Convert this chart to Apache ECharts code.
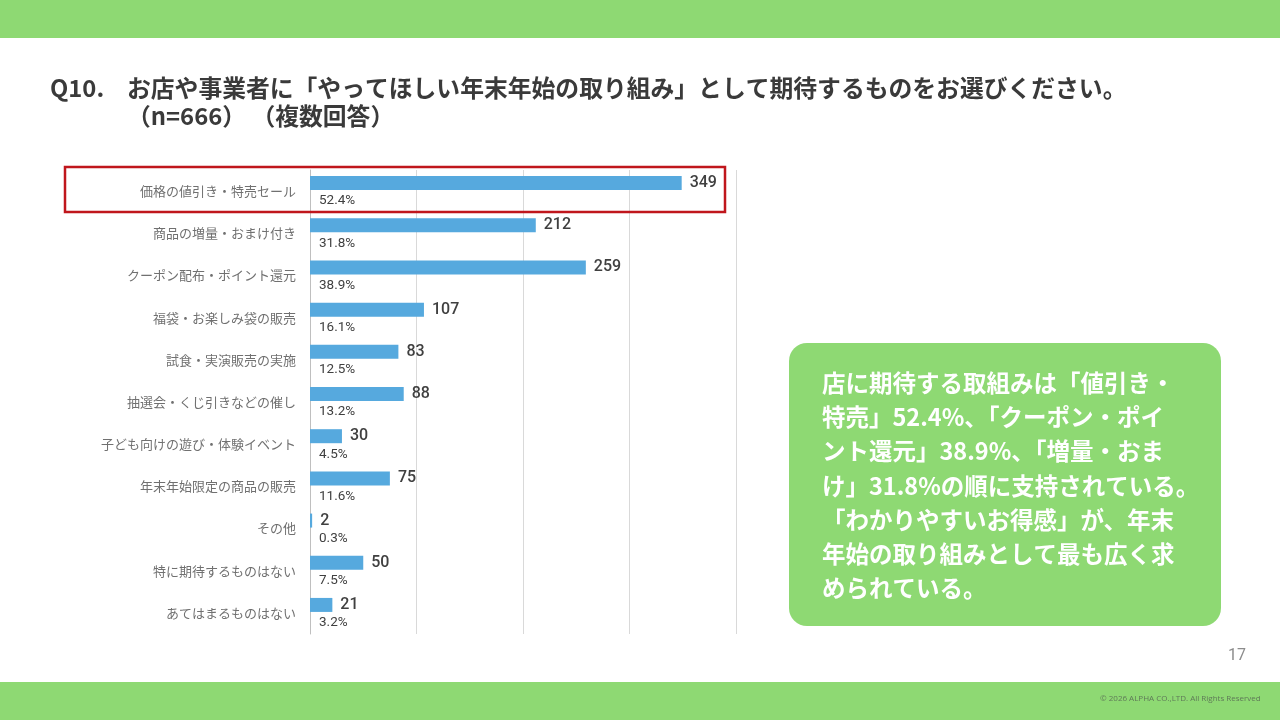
<!DOCTYPE html>
<html>
<head>
<meta charset="utf-8">
<script src="https://cdn.jsdelivr.net/npm/echarts@6/dist/echarts.min.js"></script>
<style>
  html, body { margin: 0; padding: 0; background: #fff; }
  #chart { width: 1280px; height: 720px; }
</style>
</head>
<body>
<div id="chart"></div>
<script>
// 回答項目（上から順）
var categories = [
  '価格の値引き・特売セール',
  '商品の増量・おまけ付き',
  'クーポン配布・ポイント還元',
  '福袋・お楽しみ袋の販売',
  '試食・実演販売の実施',
  '抽選会・くじ引きなどの催し',
  '子ども向けの遊び・体験イベント',
  '年末年始限定の商品の販売',
  'その他',
  '特に期待するものはない',
  'あてはまるものはない'
];
// 回答数
var counts = [349, 212, 259, 107, 83, 88, 30, 75, 2, 50, 21];
// 割合（%）
var percents = [52.4, 31.8, 38.9, 16.1, 12.5, 13.2, 4.5, 11.6, 0.3, 7.5, 3.2];
// x軸の目盛
var xTicks = [0, 100, 200, 300, 400];

var titleLine1 = 'お店や事業者に「やってほしい年末年始の取り組み」として期待するものをお選びください。';
var titleLine2 = '（n=666） （複数回答）';
var noteLines = [
  '店に期待する取組みは「値引き・',
  '特売」52.4%、「クーポン・ポイ',
  'ント還元」38.9%、「増量・おま',
  'け」31.8%の順に支持されている。',
  '「わかりやすいお得感」が、年末',
  '年始の取り組みとして最も広く求',
  'められている。'
];

var GREEN = '#8ed973';
var BLUE = '#56a9de';
var JP = '"Noto Sans CJK JP", "Noto Sans", sans-serif';

var chart = echarts.init(document.getElementById('chart'));

var option = {
  animation: false,
  backgroundColor: '#ffffff',
  grid: {
    left: 310,
    top: 170,
    width: 426,
    height: 464,
    containLabel: false
  },
  xAxis: {
    type: 'value',
    min: xTicks[0],
    max: xTicks[xTicks.length - 1],
    interval: xTicks[1] - xTicks[0],
    axisLabel: { show: false },
    axisLine: { show: false },
    axisTick: { show: false },
    splitLine: {
      show: true,
      lineStyle: { color: '#d9d9d9', width: 1 }
    }
  },
  yAxis: {
    type: 'category',
    inverse: true,
    data: categories,
    axisTick: { show: false },
    axisLine: {
      show: true,
      lineStyle: { color: '#bfbfbf', width: 1 }
    },
    axisLabel: {
      margin: 14,
      color: '#707070',
      fontSize: 13,
      fontFamily: JP
    }
  },
  series: [
    {
      name: '回答数',
      type: 'bar',
      barWidth: 14,
      barGap: '14%',
      itemStyle: { color: BLUE },
      label: {
        show: true,
        position: 'right',
        distance: 8,
        color: '#404040',
        fontSize: 16,
        fontWeight: 500,
        fontFamily: 'Roboto, sans-serif'
      },
      data: counts
    },
    {
      name: '割合',
      type: 'bar',
      barWidth: 14,
      silent: true,
      itemStyle: { color: 'rgba(0,0,0,0)' },
      label: {
        show: true,
        position: [9, '50%'],
        offset: [0, 2],
        verticalAlign: 'middle',
        color: '#404040',
        fontSize: 13.5,
        fontFamily: 'Roboto, sans-serif',
        formatter: function (p) {
          return percents[p.dataIndex].toFixed(1) + '%';
        }
      },
      data: counts
    }
  ],
  graphic: [
    // 上下の帯
    { type: 'rect', shape: { x: 0, y: 0, width: 1280, height: 38 }, style: { fill: GREEN } },
    { type: 'rect', shape: { x: 0, y: 682, width: 1280, height: 38 }, style: { fill: GREEN } },
    // タイトル
    {
      type: 'text', left: 50, top: 76,
      style: { text: 'Q10.', fill: '#3a3a3a', font: 'bold 23.8px ' + JP }
    },
    {
      type: 'text', left: 127, top: 76,
      style: { text: titleLine1, fill: '#3a3a3a', font: 'bold 23.8px ' + JP }
    },
    {
      type: 'text', left: 127, top: 104,
      style: { text: titleLine2, fill: '#3a3a3a', font: 'bold 23.8px ' + JP }
    },
    // 強調枠
    {
      type: 'rect',
      shape: { x: 65, y: 167, width: 660, height: 45 },
      style: { fill: 'none', stroke: '#c0161c', lineWidth: 2.5 },
      z: 10
    },
    // コメント枠
    {
      type: 'rect',
      shape: { x: 789, y: 343, width: 432, height: 283, r: 18 },
      style: { fill: GREEN }
    },
    {
      type: 'text', left: 822, top: 366,
      style: {
        text: noteLines.join('\n'),
        fill: '#ffffff',
        font: 'bold 23.5px ' + JP,
        lineHeight: 34.2
      }
    },
    // ページ番号・コピーライト
    {
      type: 'text', left: 1228, top: 648,
      style: { text: '17', fill: '#8c8c8c', font: '16px Roboto, sans-serif' }
    },
    {
      type: 'text', left: 1100, top: 695,
      style: { text: '© 2026 ALPHA CO.,LTD. All Rights Reserved', fill: '#5f7a58', font: '8px "Open Sans", sans-serif' }
    }
  ]
};

chart.setOption(option);
window.addEventListener('resize', function () {
  chart.resize();
});
</script>
</body>
</html>
